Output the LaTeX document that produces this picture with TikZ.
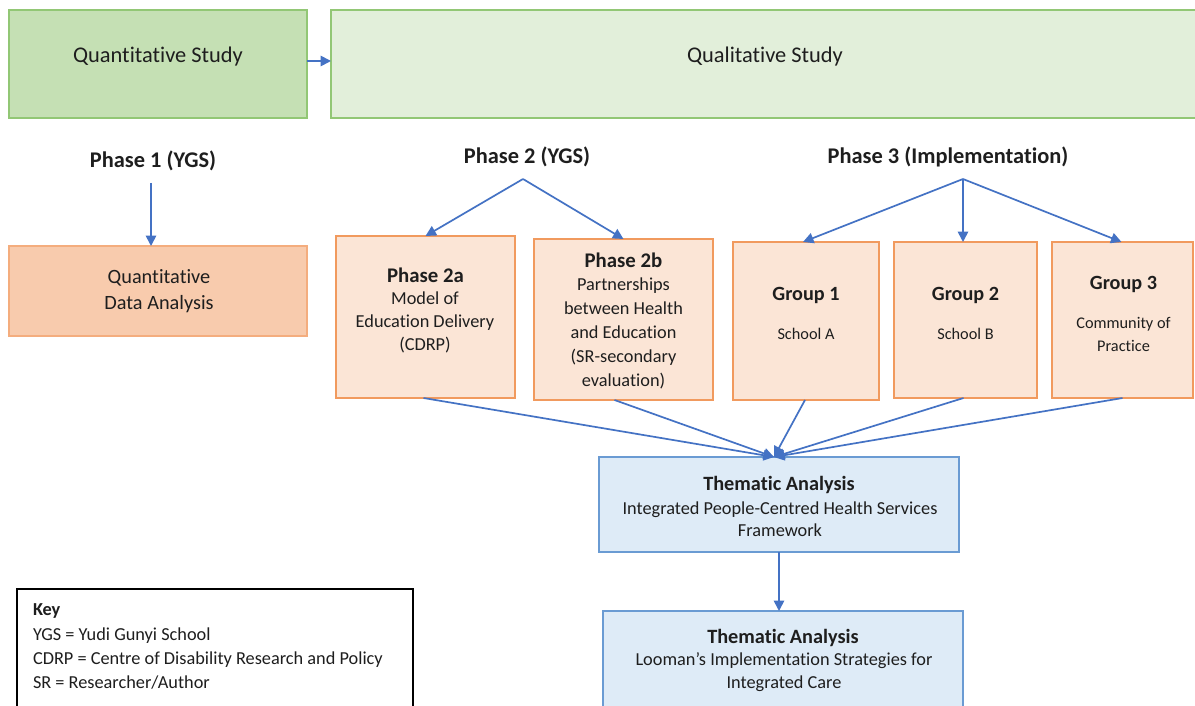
\documentclass[tikz,border=0pt]{standalone}
\usepackage{fontspec}
\setmainfont{Carlito}[Ligatures={NoCommon}]
\usetikzlibrary{arrows.meta}

\definecolor{greenA}{HTML}{C5E0B4}
\definecolor{greenB}{HTML}{E2EFDA}
\definecolor{greenLine}{HTML}{92C775}
\definecolor{orangeA}{HTML}{F8CBAD}
\definecolor{orangeB}{HTML}{FBE5D6}
\definecolor{orangeLine}{HTML}{F19A5E}
\definecolor{orangeLineL}{HTML}{F4AD7E}
\definecolor{blueA}{HTML}{DEEBF7}
\definecolor{blueLine}{HTML}{6A9BD3}
\definecolor{arrowBlue}{HTML}{4472C4}
\definecolor{txt}{HTML}{1E1E1E}

\newcommand{\fs}[2]{\fontsize{#1}{#2}\selectfont}

\tikzset{
  box/.style={draw, line width=1.2pt, inner sep=0pt, outer sep=0pt},
  txtnode/.style={inner sep=0pt, outer sep=0pt, align=center, text=txt},
  arr/.style={draw=arrowBlue, line width=1.7pt, -{Triangle[length=10.5pt,width=10.5pt]}},
}

\begin{document}
\begin{tikzpicture}[x=1pt, y=-1pt]
\useasboundingbox[fill=white] (0,0) rectangle (1195,706);

% top row: study types
\node[box, draw=greenLine, fill=greenA, minimum width=298pt, minimum height=108pt] (quant) at (158,64) {};
\node[txtnode, font=\fs{22.4}{26}] (quanttxt) at (158,57) {Quantitative Study};
\node[box, draw=greenLine, fill=greenB, anchor=north west, minimum width=900pt, minimum height=108pt] (qual) at (331,10) {};
\node[txtnode, font=\fs{22.4}{26}] (qualtxt) at (765,57) {Qualitative Study};

% phase headings
\node[txtnode, font=\bfseries\fs{22.4}{26}] (ph1) at (153,161) {Phase 1 (YGS)};
\node[txtnode, font=\bfseries\fs{22.4}{26}] (ph2) at (527,157) {Phase 2 (YGS)};
\node[txtnode, font=\bfseries\fs{22.4}{26}] (ph3) at (948,157) {Phase 3 (Implementation)};
\coordinate (ph1out) at (151,183);
\coordinate (ph2out) at (523,179);
\coordinate (ph3out) at (963,179);

% phase 1 box
\node[box, draw=orangeLineL, fill=orangeA, minimum width=298pt, minimum height=90pt] (qda) at (158,291) {};
\node[txtnode, font=\fs{20.3}{26}] (qdatxt) at (159,291) {Quantitative\\ Data Analysis};

% phase 2 boxes
\node[box, draw=orangeLine, fill=orangeB, minimum width=179pt, minimum height=162pt] (p2a) at (425.5,317) {};
\node[txtnode, font=\bfseries\fs{20.8}{24}] (p2ahead) at (425.5,275) {Phase 2a};
\node[txtnode, font=\fs{18.3}{23}] (p2abody) at (425,322) {Model of\\ Education Delivery\\ (CDRP)};

\node[box, draw=orangeLine, fill=orangeB, minimum width=179pt, minimum height=161pt] (p2b) at (623.5,319.5) {};
\node[txtnode, font=\bfseries\fs{20.8}{24}] (p2bhead) at (623.5,260) {Phase 2b};
\node[txtnode, font=\fs{18.3}{24.2}] (p2bbody) at (623.5,333.5) {Partnerships\\ between Health\\ and Education\\ (SR-secondary\\ evaluation)};

% phase 3 boxes
\node[box, draw=orangeLine, fill=orangeB, minimum width=146pt, minimum height=158pt] (g1) at (806,321) {};
\node[txtnode, font=\bfseries\fs{20.2}{24}] (g1head) at (806,295) {Group 1};
\node[txtnode, font=\fs{16.3}{23}] (g1body) at (806,334) {School A};

\node[box, draw=orangeLine, fill=orangeB, minimum width=143pt, minimum height=156pt] (g2) at (965.5,320) {};
\node[txtnode, font=\bfseries\fs{20.2}{24}] (g2head) at (965.5,295) {Group 2};
\node[txtnode, font=\fs{16.3}{23}] (g2body) at (965.5,334) {School B};

\node[box, draw=orangeLine, fill=orangeB, minimum width=141pt, minimum height=156pt] (g3) at (1122.5,320) {};
\node[txtnode, font=\bfseries\fs{20.2}{24}] (g3head) at (1123.5,284) {Group 3};
\node[txtnode, font=\fs{16.3}{23}] (g3body) at (1123.5,334.5) {Community of\\ Practice};

% thematic analysis boxes
\node[box, draw=blueLine, fill=blueA, minimum width=360pt, minimum height=95pt] (ta1) at (779,504.5) {};
\node[txtnode, font=\bfseries\fs{20.3}{24}] (ta1head) at (779,485) {Thematic Analysis};
\node[txtnode, font=\fs{18.3}{22}] (ta1body) at (780,519) {Integrated People-Centred Health Services\\ Framework};

\node[box, draw=blueLine, fill=blueA, anchor=north, minimum width=360pt, minimum height=110pt] (ta2) at (783,611) {};
\node[txtnode, font=\bfseries\fs{20.3}{24}] (ta2head) at (783,638) {Thematic Analysis};
\node[txtnode, font=\fs{18.3}{23}] (ta2body) at (784,672.5) {Looman’s Implementation Strategies for\\ Integrated Care};

% key
\node[box, draw=black, line width=1.4pt, fill=white, anchor=north west, minimum width=396pt, minimum height=130pt] (key) at (17,589) {};
\node[txtnode, align=left, anchor=west, font=\bfseries\fs{18.3}{24}] (keyhead) at (33,611) {Key};
\node[txtnode, align=left, anchor=west, font=\fs{18.3}{24}] (keybody) at (33,659) {YGS = Yudi Gunyi School\\ CDRP = Centre of Disability Research and Policy\\ SR = Researcher/Author};

% connectors
\coordinate (merge) at (774,457);
\draw[arr] (quant.east |- 0,61) -- (qual.west |- 0,61);
\draw[arr] (ph1out) -- (ph1out |- qda.north);
\draw[arr] (ph2out) -- (p2a.north);
\draw[arr] (ph2out) -- (p2b.north);
\draw[arr] (ph3out) -- ([xshift=-3pt]g1.north);
\draw[arr] (ph3out) -- (ph3out |- g2.north);
\draw[arr] (ph3out) -- ([xshift=-1pt]g3.north);
\draw[arr] ([xshift=-2pt]p2a.south) -- (merge);
\draw[arr] ([xshift=-9pt]p2b.south) -- (merge);
\draw[arr] ([xshift=-1pt]g1.south) -- (merge);
\draw[arr] ([xshift=-2pt]g2.south) -- (merge);
\draw[arr] ([xshift=0pt]g3.south) -- (merge);
\draw[arr] (ta1.south) -- (ta1.south |- ta2.north);
\end{tikzpicture}
\end{document}
